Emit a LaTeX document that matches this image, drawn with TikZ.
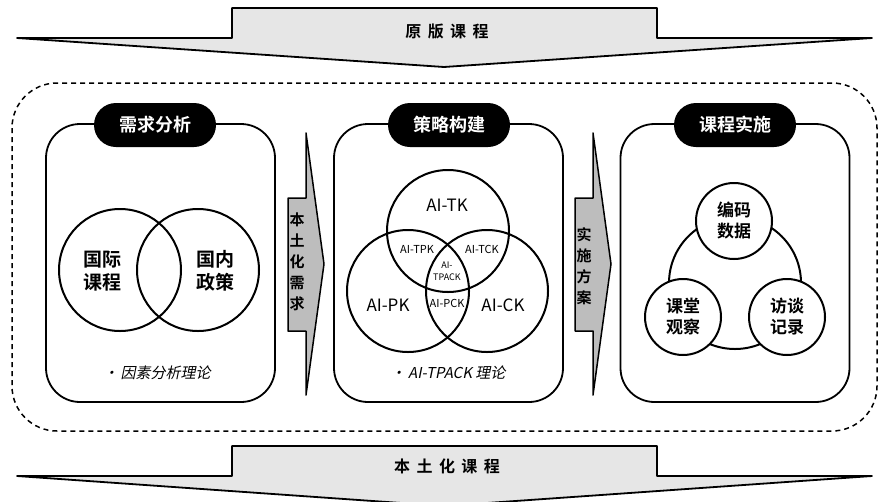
\documentclass[tikz,border=0pt]{standalone}
\usepackage{fontspec}
\setmainfont[BoldFont={Noto Sans CJK SC Bold}]{Noto Sans CJK SC}
\newfontfamily\slantfont[FakeSlant=0.2]{Noto Sans CJK SC}
\newfontfamily\spacedfont[LetterSpace=40, BoldFont={Noto Sans CJK SC Bold}]{Noto Sans CJK SC}
\usetikzlibrary{positioning}
\definecolor{bandgray}{HTML}{E6E6E6}
\definecolor{stepgray}{HTML}{BDBDBD}

\tikzset{
  panel/.style={draw=black, line width=1.8pt, rounded corners=34pt, fill=white,
    minimum width=229pt, minimum height=278pt, inner sep=0pt},
  pill/.style={fill=black, rounded corners=22pt, minimum width=122pt, minimum height=44pt,
    inner sep=0pt, text=white, font=\bfseries\fontsize{18}{20}\selectfont},
  ring/.style={draw=black, line width=2pt, circle, inner sep=0pt},
  bigtxt/.style={font=\bfseries\fontsize{19}{23}\selectfont, align=center},
  smalltxt/.style={font=\fontsize{11}{13}\selectfont, align=center},
  midtxt/.style={font=\fontsize{17}{20}\selectfont, align=center},
  notetxt/.style={font=\slantfont\fontsize{15}{18}\selectfont},
  bandtxt/.style={font=\spacedfont\bfseries\fontsize{16}{18}\selectfont},
  steptxt/.style={font=\bfseries\fontsize{15}{21}\selectfont, align=center},
  band/.style={fill=bandgray, draw=black, line width=1.8pt, line join=round},
  stepshape/.style={fill=stepgray, draw=black, line width=1.5pt, line join=round},
}

\begin{document}
\begin{tikzpicture}[x=1pt, y=-1pt]
  \useasboundingbox (0,0) rectangle (888,501);
  \clip (0,0) rectangle (888,501);

  % top and bottom bands
  \draw[band] (232,8) -- (657,8) -- (657,38) -- (872,38) -- (444,67) -- (17,38) -- (232,38) -- cycle;
  \node[bandtxt] (orig) at (447,31) {原版课程};
  \draw[band] (232,446) -- (657,446) -- (657,476) -- (872,476) -- (444,506) -- (17,476) -- (232,476) -- cycle;
  \node[bandtxt] (local) at (447,466) {本土化课程};

  % dashed frame
  \draw[dashed, dash pattern=on 5pt off 4pt, line width=1.5pt, rounded corners=45pt]
    (12,83) rectangle (877,431);

  % three panels
  \node[panel] (pneed) at (160.5,263) {};
  \node[panel] (pplan) at (448.5,263) {};
  \node[panel] (pdo) at (735,263) {};
  \node[pill] (hneed) at (155,125) {需求分析};
  \node[pill] (hplan) at (449,125) {策略构建};
  \node[pill] (hdo) at (735,125) {课程实施};

  % step arrows between panels
  \foreach \x/\n in {288/a, 575/b}{
    \draw[stepshape] (\x,198) -- (\x+18,198) -- (\x+18,133) -- (\x+36,264)
      -- (\x+18,395) -- (\x+18,331) -- (\x,331) -- cycle;
  }
  \node[steptxt] (sneed) at (297,262) {本\\土\\化\\需\\求};
  \node[steptxt] (splan) at (584,266) {实\\施\\方\\案};

  % panel 1: two circles
  \node[ring, minimum size=122pt] (cintl) at (120,270) {};
  \node[ring, minimum size=122pt] (cdom) at (198,270) {};
  \node[bigtxt] (tintl) at (102,271) {国际\\课程};
  \node[bigtxt] (tdom) at (215,271) {国内\\政策};
  \node[notetxt] (nneed) at (157,373) {·\,因素分析理论};

  % panel 2: TPACK
  \node[ring, minimum size=122pt] (ctk) at (448,231) {};
  \node[ring, minimum size=122pt] (cpk) at (408,291) {};
  \node[ring, minimum size=122pt] (cck) at (487,291) {};
  \node[midtxt] (ltk) at (447,205) {AI-TK};
  \node[midtxt] (lpk) at (388,305) {AI-PK};
  \node[midtxt] (lck) at (503,305) {AI-CK};
  \node[smalltxt] (ltpk) at (417,249) {AI-TPK};
  \node[smalltxt] (ltck) at (482,249) {AI-TCK};
  \node[smalltxt, font=\fontsize{9}{12}\selectfont] (ltpack) at (447,271) {AI-\\TPACK};
  \node[smalltxt] (lpck) at (447,303) {AI-PCK};
  \node[notetxt] (nplan) at (448,373) {·\,AI-TPACK 理论};

  % panel 3: data sources
  \node[ring, minimum size=132pt] (cmid) at (735,283) {};
  \node[ring, fill=white, minimum size=76pt, bigtxt, font=\bfseries\fontsize{17}{21}\selectfont] (ccode) at (734,221) {编码\\数据};
  \node[ring, fill=white, minimum size=76pt, bigtxt, font=\bfseries\fontsize{17}{21}\selectfont] (cobs) at (683,317) {课堂\\观察};
  \node[ring, fill=white, minimum size=76pt, bigtxt, font=\bfseries\fontsize{17}{21}\selectfont] (cint) at (787,317) {访谈\\记录};
\end{tikzpicture}
\end{document}
